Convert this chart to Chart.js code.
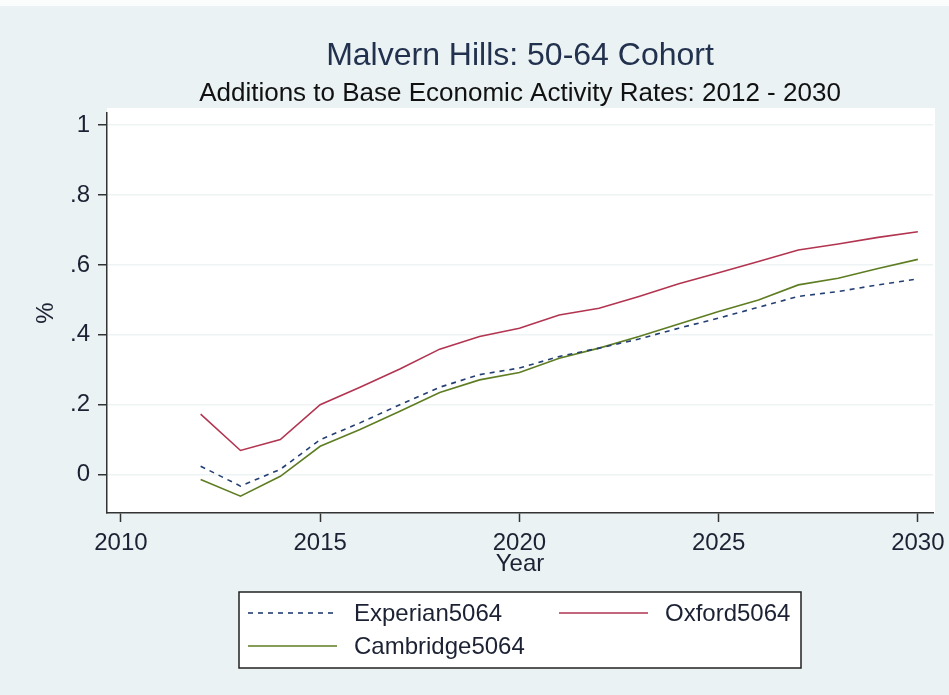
<!DOCTYPE html>
<html>
<head>
<meta charset="utf-8">
<script src="https://cdn.jsdelivr.net/npm/chart.js@4"></script>
<style>
  html, body { margin: 0; padding: 0; background: #eaf2f3; }
  #wrap { width: 949px; height: 695px; }
</style>
</head>
<body>
<div id="wrap"><canvas id="chart" width="949" height="695"></canvas></div>
<script>
// values
const years = [2012, 2013, 2014, 2015, 2016, 2017, 2018, 2019, 2020, 2021,
  2022, 2023, 2024, 2025, 2026, 2027, 2028, 2029, 2030];
const experian = [0.024, -0.033, 0.015, 0.100, 0.148, 0.200, 0.250, 0.286, 0.305, 0.338,
  0.362, 0.388, 0.419, 0.448, 0.479, 0.510, 0.524, 0.543, 0.560];
const oxford = [0.173, 0.069, 0.100, 0.200, 0.250, 0.302, 0.359, 0.395, 0.419, 0.457,
  0.476, 0.510, 0.546, 0.578, 0.610, 0.643, 0.660, 0.679, 0.695];
const cambridge = [-0.014, -0.062, -0.005, 0.081, 0.129, 0.181, 0.235, 0.271, 0.292, 0.333,
  0.362, 0.395, 0.431, 0.467, 0.500, 0.543, 0.562, 0.590, 0.616];
const seriesNames = ['Experian5064', 'Oxford5064', 'Cambridge5064'];
const yTicks = [0, 0.2, 0.4, 0.6, 0.8, 1];
const xTicks = [2010, 2015, 2020, 2025, 2030];

const FONT = "'Liberation Sans', Arial, sans-serif";
const INK = '#1c2233';

// stata style number: .2 instead of 0.2
const stataNum = v => {
  const r = Math.round(v * 10) / 10;
  return r === 0 || r === 1 ? String(r) : String(r).replace(/^0\./, '.');
};

// light graph region, white plot region
const backdrop = {
  id: 'backdrop',
  beforeDraw(chart) {
    const { ctx, chartArea } = chart;
    ctx.save();
    ctx.fillStyle = '#eaf2f3';
    ctx.fillRect(0, 0, chart.width, chart.height);
    ctx.fillStyle = '#fbfcfc';
    ctx.fillRect(0, 0, chart.width, 6);
    ctx.fillStyle = '#ffffff';
    ctx.fillRect(chartArea.left, chartArea.top - 5, chartArea.width + 2, chartArea.height + 5);
    ctx.restore();
  }
};

// boxed legend, two columns like Stata
const boxLegend = {
  id: 'boxLegend',
  afterDraw(chart) {
    const ctx = chart.ctx;
    const box = { x: 239, y: 592, w: 562, h: 76 };
    const cols = [248, 559];
    const rows = [613, 646];
    ctx.save();
    ctx.fillStyle = '#ffffff';
    ctx.fillRect(box.x, box.y, box.w, box.h);
    ctx.strokeStyle = '#222';
    ctx.lineWidth = 1.5;
    ctx.strokeRect(box.x, box.y, box.w, box.h);
    ctx.font = '24px ' + FONT;
    ctx.textBaseline = 'middle';
    chart.data.datasets.forEach((ds, i) => {
      const x = cols[i % 2];
      const y = rows[Math.floor(i / 2)];
      ctx.strokeStyle = ds.borderColor;
      ctx.lineWidth = ds.borderWidth;
      ctx.setLineDash(ds.borderDash || []);
      ctx.beginPath();
      ctx.moveTo(x, y);
      ctx.lineTo(x + 89, y);
      ctx.stroke();
      ctx.setLineDash([]);
      ctx.fillStyle = INK;
      ctx.fillText(ds.label, x + 106, y + 1);
    });
    ctx.restore();
  }
};

const ctx = document.getElementById('chart').getContext('2d');
new Chart(ctx, {
  type: 'line',
  data: {
    labels: years,
    datasets: [
      {
        label: seriesNames[0],
        data: years.map((y, i) => ({ x: y, y: experian[i] })),
        borderColor: '#233f73',
        borderWidth: 1.6,
        borderDash: [5, 5]
      },
      {
        label: seriesNames[1],
        data: years.map((y, i) => ({ x: y, y: oxford[i] })),
        borderColor: '#b23450',
        borderWidth: 1.6
      },
      {
        label: seriesNames[2],
        data: years.map((y, i) => ({ x: y, y: cambridge[i] })),
        borderColor: '#5e7d22',
        borderWidth: 1.6
      }
    ]
  },
  options: {
    responsive: false,
    animation: false,
    layout: { padding: { top: 0, left: 34, right: 16, bottom: 119 } },
    elements: { point: { radius: 0 }, line: { tension: 0 } },
    plugins: {
      legend: { display: false },
      tooltip: { enabled: false },
      title: {
        display: true,
        fullSize: false,
        text: 'Malvern Hills: 50-64 Cohort',
        color: '#22314e',
        font: { family: FONT, size: 32, weight: 'normal', lineHeight: 1 },
        padding: { top: 40, bottom: 0 }
      },
      subtitle: {
        display: true,
        fullSize: false,
        text: 'Additions to Base Economic Activity Rates: 2012 - 2030',
        color: '#111',
        font: { family: FONT, size: 26, weight: 'normal', lineHeight: 1 },
        padding: { top: 9, bottom: 6 }
      }
    },
    scales: {
      x: {
        type: 'linear',
        min: 2009.65,
        max: 2030.38,
        afterBuildTicks: s => { s.ticks = xTicks.map(v => ({ value: v })); },
        afterFit: s => { s.height = 63; s.paddingLeft = 0; s.paddingRight = 0; },
        ticks: {
          color: INK,
          padding: 9,
          maxRotation: 0,
          font: { family: FONT, size: 24, lineHeight: 1 },
          callback: v => String(v)
        },
        grid: { drawOnChartArea: false, tickLength: 9, tickColor: '#333', tickWidth: 1.5 },
        border: { color: '#333', width: 1.5 },
        title: {
          display: true,
          text: 'Year',
          color: INK,
          padding: 0,
          font: { family: FONT, size: 24, lineHeight: 1 }
        }
      },
      y: {
        min: -0.11,
        max: 1.035,
        afterBuildTicks: s => { s.ticks = yTicks.map(v => ({ value: v })); },
        afterFit: s => { s.width = 73; },
        ticks: {
          color: INK,
          padding: 8,
          font: { family: FONT, size: 24, lineHeight: 1 },
          callback: v => stataNum(v)
        },
        grid: { color: '#eef3f3', lineWidth: 1.5, tickLength: 9, tickColor: '#333', tickWidth: 1.5 },
        border: { color: '#333', width: 1.5 },
        title: {
          display: true,
          text: '%',
          color: INK,
          padding: { top: 0, bottom: 12 },
          font: { family: FONT, size: 24, lineHeight: 1 }
        }
      }
    }
  },
  plugins: [backdrop, boxLegend]
});
</script>
</body>
</html>
